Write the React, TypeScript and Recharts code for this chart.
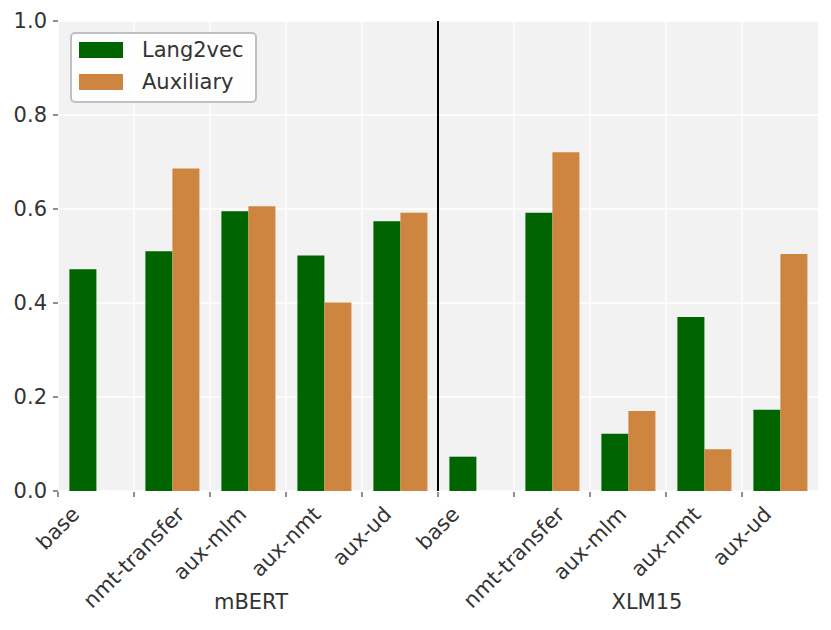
import React from "react";
import {
  BarChart, Bar, XAxis, YAxis, CartesianGrid, ReferenceLine,
} from "recharts";

const categories = [
  "base", "nmt-transfer", "aux-mlm", "aux-nmt", "aux-ud",
  "base", "nmt-transfer", "aux-mlm", "aux-nmt", "aux-ud",
];
const models = ["mBERT", "mBERT", "mBERT", "mBERT", "mBERT", "XLM15", "XLM15", "XLM15", "XLM15", "XLM15"];
const lang2vec = [0.472, 0.51, 0.595, 0.501, 0.574, 0.073, 0.592, 0.122, 0.37, 0.173];
const auxiliary = [null, 0.686, 0.606, 0.401, 0.592, null, 0.721, 0.17, 0.089, 0.504];
const yTicks = [0, 0.2, 0.4, 0.6, 0.8, 1.0];
const groupLabels = ["mBERT", "XLM15"];
const seriesNames = ["Lang2vec", "Auxiliary"];

const GREEN = "#006400";
const ORANGE = "#cd853f";
const TEXT = "#333333";
const FONT = "'DejaVu Sans', sans-serif";
const FS = 21;

const data = categories.map((c, i) => ({
  key: `${models[i]}|${c}`,
  label: c,
  lang2vec: lang2vec[i],
  auxiliary: auxiliary[i],
}));

let measureCtx: CanvasRenderingContext2D | null = null;
function textWidth(s: string) {
  if (!measureCtx) measureCtx = document.createElement("canvas").getContext("2d");
  if (!measureCtx) return s.length * FS * 0.6;
  measureCtx.font = `${FS}px "DejaVu Sans"`;
  return measureCtx.measureText(s).width;
}

// matplotlib-style tick: mark on the band edge, label rotated 45deg and centred on it
function EdgeTick(props: any) {
  const { x, y, payload } = props;
  const half = payload?.offset ?? 38;
  const edge = x - half;
  const label = String(payload.value).split("|")[1];
  const w = textWidth(label);
  const ext = ((w + FS * 1.16) * Math.SQRT1_2) / 2;
  const ty = y + 11 + ext;
  return (
    <g>
      <line x1={edge} y1={y + 1} x2={edge} y2={y + 6} stroke="#555" strokeWidth={1.3} />
      <text
        x={edge} y={ty} textAnchor="middle" dominantBaseline="central"
        transform={`rotate(-45 ${edge} ${ty})`}
        fill={TEXT} fontSize={FS} fontFamily={FONT}
      >
        {label}
      </text>
    </g>
  );
}

function LegendBox() {
  const colors = [GREEN, ORANGE];
  return (
    <div style={{
      position: "absolute", left: 70, top: 32, width: 183, height: 67,
      background: "rgba(255,255,255,0.9)", border: "2px solid #c0c0c0",
      borderRadius: 5, fontFamily: FONT, fontSize: FS, color: TEXT,
    }}>
      {seriesNames.map((name, i) => (
        <div key={name} style={{ position: "absolute", left: 7, top: 8 + i * 32, display: "flex", alignItems: "center", height: 16 }}>
          <span style={{ width: 44, height: 16, background: colors[i], display: "inline-block" }} />
          <span style={{ marginLeft: 19, lineHeight: "16px" }}>{name}</span>
        </div>
      ))}
    </div>
  );
}

export default function App() {
  return (
    <div style={{ position: "absolute", left: 0, top: 0, width: 831, height: 630, background: "#fff" }}>
      <BarChart
        width={831} height={630} data={data}
        margin={{ top: 21, right: 13, left: 0, bottom: 0 }}
        barCategoryGap="15%" barGap={0}
      >
        <CartesianGrid
          fill="#f2f2f2" stroke="#ffffff" strokeWidth={1.5}
          verticalCoordinatesGenerator={({ offset }: any) =>
            categories.map((_, i) => offset.left + (i * offset.width) / categories.length)}
        />
        <XAxis
          dataKey="key" interval={0} height={139} axisLine={false} tickLine={false}
          tickSize={0} tickMargin={0} tick={<EdgeTick />}
        />
        <YAxis
          domain={[0, 1]} ticks={yTicks} width={58} axisLine={false}
          tickSize={5} tickMargin={6} tickLine={{ stroke: "#555", strokeWidth: 1.3 }}
          tickFormatter={(v: number) => v.toFixed(1)}
          tick={{ fill: TEXT, fontSize: FS, fontFamily: FONT }}
        />
        <ReferenceLine x="XLM15|base" position="start" stroke="#000" strokeWidth={2} />
        <Bar dataKey="lang2vec" name={seriesNames[0]} fill={GREEN} isAnimationActive={false} />
        <Bar dataKey="auxiliary" name={seriesNames[1]} fill={ORANGE} isAnimationActive={false} />
      </BarChart>
      <LegendBox />
      <div style={{ position: "absolute", left: 251, top: 602, transform: "translate(-50%, -50%)", fontFamily: FONT, fontSize: FS, color: TEXT, whiteSpace: "nowrap" }}>
        {groupLabels[0]}
      </div>
      <div style={{ position: "absolute", left: 647, top: 602, transform: "translate(-50%, -50%)", fontFamily: FONT, fontSize: FS, color: TEXT, whiteSpace: "nowrap" }}>
        {groupLabels[1]}
      </div>
    </div>
  );
}
